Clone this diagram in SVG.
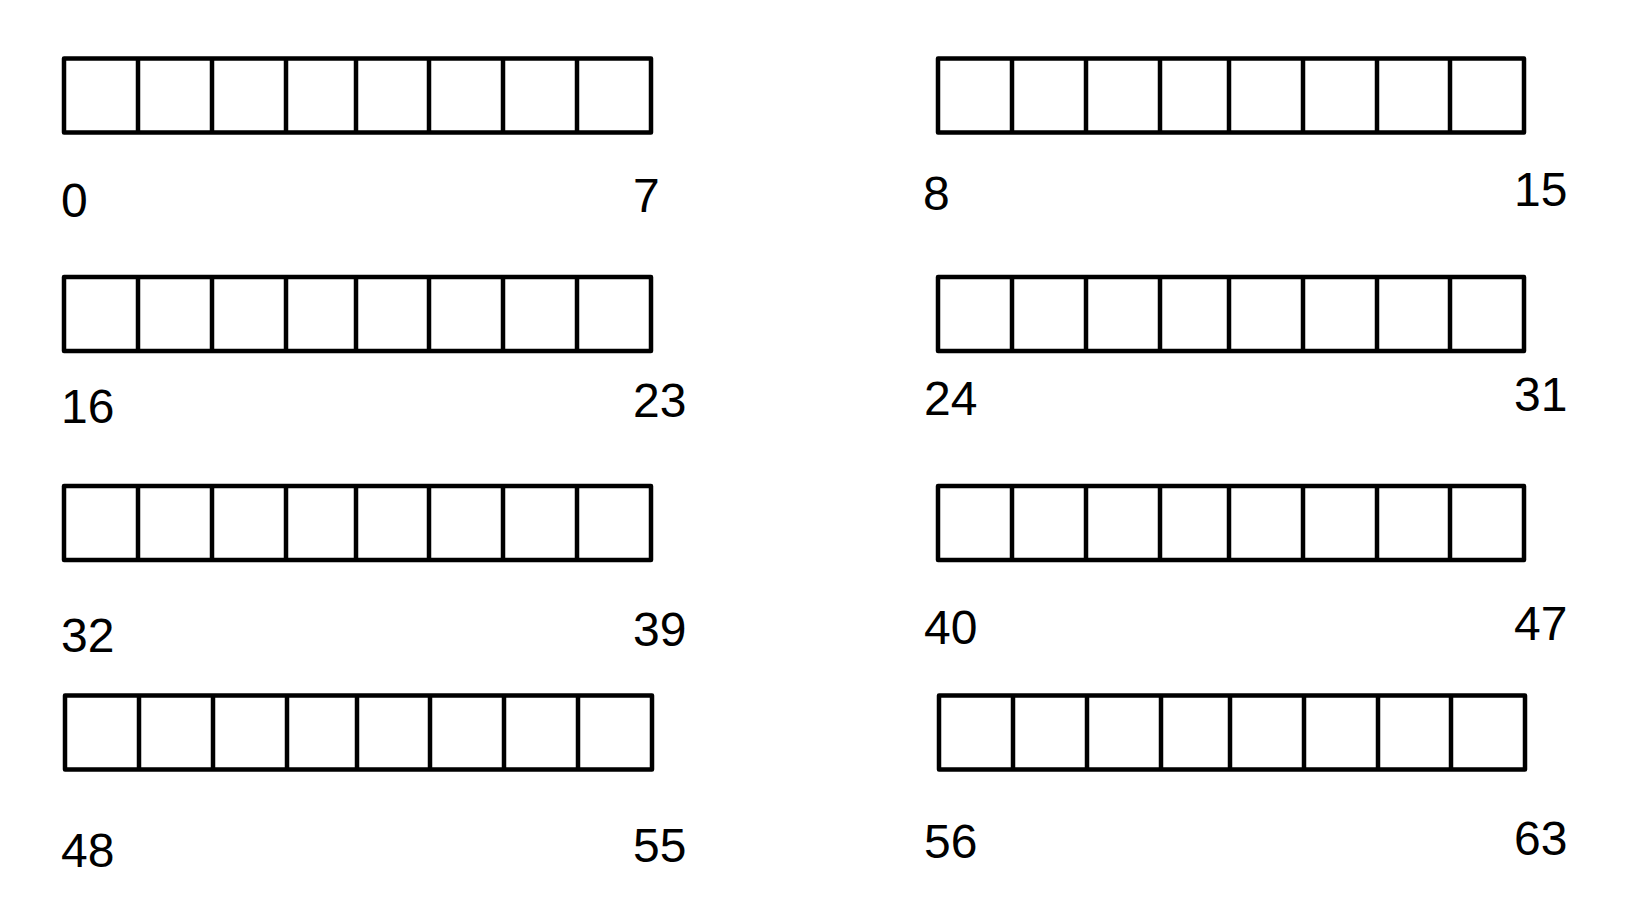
<svg xmlns="http://www.w3.org/2000/svg" width="1638" height="898" viewBox="0 0 1638 898">
<style>
.box{fill:none;stroke:#000;stroke-width:4.5;stroke-linejoin:round}
.div{stroke:#000;stroke-width:4.5}
.lbl{font-family:"Liberation Sans",Arial,sans-serif;font-size:48px;fill:#000}
</style>
<defs>
<g id="regL">
<rect class="box" x="0" y="0" width="587" height="74"/>
<line class="div" x1="74" y1="0" x2="74" y2="74"/>
<line class="div" x1="148" y1="0" x2="148" y2="74"/>
<line class="div" x1="222" y1="0" x2="222" y2="74"/>
<line class="div" x1="292" y1="0" x2="292" y2="74"/>
<line class="div" x1="365" y1="0" x2="365" y2="74"/>
<line class="div" x1="439" y1="0" x2="439" y2="74"/>
<line class="div" x1="513" y1="0" x2="513" y2="74"/>
</g>
<g id="regR">
<rect class="box" x="0" y="0" width="586" height="74"/>
<line class="div" x1="74" y1="0" x2="74" y2="74"/>
<line class="div" x1="148" y1="0" x2="148" y2="74"/>
<line class="div" x1="222" y1="0" x2="222" y2="74"/>
<line class="div" x1="291" y1="0" x2="291" y2="74"/>
<line class="div" x1="365" y1="0" x2="365" y2="74"/>
<line class="div" x1="439" y1="0" x2="439" y2="74"/>
<line class="div" x1="512" y1="0" x2="512" y2="74"/>
</g>
</defs>
<g id="byte0">
<use href="#regL" x="64" y="58.5"/>
<text class="lbl" x="61" y="217">0</text>
<text class="lbl" x="633" y="212">7</text>
</g>
<g id="byte1">
<use href="#regR" x="938" y="58.5"/>
<text class="lbl" x="923" y="210">8</text>
<text class="lbl" x="1514" y="206">15</text>
</g>
<g id="byte2">
<use href="#regL" x="64" y="277"/>
<text class="lbl" x="61" y="423">16</text>
<text class="lbl" x="633" y="417">23</text>
</g>
<g id="byte3">
<use href="#regR" x="938" y="277"/>
<text class="lbl" x="924" y="414.5">24</text>
<text class="lbl" x="1514" y="410.5">31</text>
</g>
<g id="byte4">
<use href="#regL" x="64" y="486"/>
<text class="lbl" x="61" y="652">32</text>
<text class="lbl" x="633" y="645.5">39</text>
</g>
<g id="byte5">
<use href="#regR" x="938" y="486"/>
<text class="lbl" x="924" y="643.5">40</text>
<text class="lbl" x="1514" y="639.5">47</text>
</g>
<g id="byte6">
<use href="#regL" x="65" y="695.5"/>
<text class="lbl" x="61" y="866.5">48</text>
<text class="lbl" x="633" y="861.5">55</text>
</g>
<g id="byte7">
<use href="#regR" x="939" y="695.5"/>
<text class="lbl" x="924" y="858">56</text>
<text class="lbl" x="1514" y="855">63</text>
</g>
<g id="connectors"/>
</svg>
